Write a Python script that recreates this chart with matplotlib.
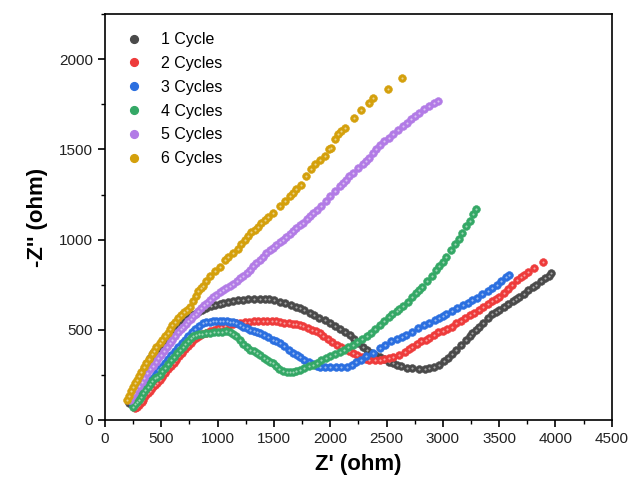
import matplotlib
matplotlib.use("Agg")
import matplotlib.pyplot as plt
from matplotlib.lines import Line2D
from matplotlib.ticker import MultipleLocator

plt.rcParams['font.family'] = ['Liberation Sans', 'DejaVu Sans']

labels = ["1 Cycle", "2 Cycles", "3 Cycles", "4 Cycles", "5 Cycles", "6 Cycles"]
colors = ["#4a4a4a", "#ee3b3b", "#2b6fe0", "#34a866", "#b27be6", "#d4a00c"]

c1 = [(215,95),(235,125),(255,155),(281,190),(305,222),(330,255),(350,285),(375,315),(400,343),(428,370),(455,390),(480,408),(500,420),(525,435),(550,450),(576,463),(600,478),(625,495),(650,512),(675,527),(700,542),(724,556),(750,568),(775,580),(800,590),(830,600),(860,610),(901,620),(940,630),(980,637),(1020,641),(1049,646),(1090,652),(1135,659),(1180,663),(1225,666),(1270,669),(1320,671),(1374,672),(1420,671),(1460,668),(1500,664),(1551,656),(1600,646),(1650,636),(1700,627),(1729,622),(1770,610),(1817,594),(1860,580),(1900,566),(1950,552),(1995,539),(2040,522),(2085,505),(2130,488),(2172,472),(2210,450),(2250,428),(2287,406),(2325,390),(2360,372),(2400,360),(2438,350),(2480,336),(2520,324),(2560,314),(2589,306),(2630,298),(2680,290),(2730,286),(2792,284),(2840,285),(2880,289),(2920,294),(2970,306),(3010,325),(3050,345),(3085,368),(3120,390),(3160,415),(3209,444),(3240,465),(3262,483),(3295,500),(3324,517),(3360,540),(3400,565),(3440,585),(3470,598),(3501,611),(3540,628),(3580,645),(3620,660),(3650,672),(3679,683),(3720,700),(3760,718),(3800,736),(3830,750),(3870,768),(3910,787),(3940,800),(3963,817)]

c2 = [(266,65),(285,72),(305,85),(325,100),(340,111),(360,130),(380,150),(400,163),(420,175),(445,192),(465,207),(488,222),(510,240),(535,260),(560,280),(585,298),(610,315),(635,333),(660,352),(685,372),(710,392),(735,410),(760,428),(783,444),(810,456),(835,466),(860,475),(895,483),(931,491),(965,500),(1000,510),(1035,517),(1070,523),(1100,528),(1135,533),(1167,536),(1200,539),(1240,542),(1280,544),(1320,546),(1360,548),(1401,550),(1440,550),(1480,549),(1520,547),(1551,544),(1590,540),(1630,536),(1670,533),(1700,530),(1729,528),(1760,520),(1800,510),(1840,500),(1870,493),(1906,483),(1940,468),(1980,450),(2020,432),(2057,417),(2095,403),(2130,392),(2165,381),(2199,372),(2240,360),(2280,348),(2320,339),(2349,333),(2400,331),(2438,333),(2480,338),(2520,344),(2560,350),(2615,361),(2660,378),(2700,395),(2730,406),(2770,420),(2810,435),(2850,446),(2881,456),(2920,470),(2960,485),(3000,495),(3040,505),(3085,517),(3120,535),(3160,550),(3200,567),(3240,580),(3280,595),(3324,611),(3360,625),(3400,642),(3440,658),(3470,670),(3501,683),(3540,705),(3580,728),(3617,750),(3660,775),(3690,790),(3723,806),(3760,820),(3812,844),(3891,878)]

c3 = [(245,82),(270,100),(300,125),(325,150),(350,172),(375,195),(400,215),(425,235),(450,255),(475,275),(500,295),(530,318),(560,340),(590,362),(620,385),(650,405),(680,425),(710,445),(740,465),(770,485),(800,502),(835,520),(871,537),(900,542),(930,545),(960,546),(990,546),(1020,547),(1050,547),(1082,548),(1110,545),(1140,541),(1167,537),(1197,528),(1230,518),(1260,508),(1290,500),(1320,495),(1350,488),(1374,483),(1410,470),(1450,458),(1490,443),(1520,436),(1551,428),(1590,410),(1630,390),(1670,372),(1702,361),(1729,350),(1770,335),(1810,320),(1850,308),(1880,300),(1906,294),(1950,292),(2000,292),(2050,292),(2100,293),(2145,294),(2190,305),(2230,320),(2270,335),(2320,352),(2376,372),(2438,398),(2490,418),(2540,436),(2590,450),(2640,462),(2677,472),(2730,490),(2780,508),(2830,524),(2880,538),(2930,552),(2970,566),(3000,578),(3032,590),(3080,606),(3130,622),(3180,637),(3220,650),(3262,663),(3300,678),(3350,698),(3400,715),(3439,733),(3480,750),(3520,770),(3560,790),(3590,806)]

c4 = [(251,74),(270,88),(285,100),(300,110),(320,128),(340,150),(360,168),(380,185),(400,200),(420,215),(445,230),(465,240),(488,250),(510,270),(535,290),(560,310),(585,330),(610,350),(640,370),(665,388),(690,405),(710,420),(735,437),(760,452),(783,463),(810,470),(835,475),(860,478),(895,480),(931,481),(965,485),(1000,487),(1040,490),(1079,491),(1110,487),(1140,478),(1167,463),(1197,444),(1230,422),(1260,402),(1290,390),(1320,382),(1347,372),(1380,358),(1410,342),(1440,330),(1465,322),(1489,317),(1520,300),(1550,285),(1580,273),(1613,267),(1640,264),(1667,267),(1700,272),(1729,278),(1770,288),(1810,298),(1844,306),(1880,318),(1920,330),(1960,343),(2000,355),(2040,365),(2083,376),(2120,388),(2160,402),(2200,418),(2240,433),(2280,448),(2323,464),(2360,482),(2400,505),(2438,526),(2480,550),(2520,572),(2553,590),(2590,603),(2615,613),(2650,632),(2690,655),(2730,682),(2760,703),(2792,722),(2819,739),(2860,770),(2900,800),(2940,830),(2970,852),(3000,875),(3032,904),(3070,940),(3110,975),(3140,1005),(3174,1039),(3210,1075),(3240,1105),(3270,1140),(3298,1167)]

c5 = [(222,111),(240,130),(260,150),(280,170),(300,190),(325,212),(350,235),(375,258),(400,280),(425,300),(450,322),(475,342),(500,362),(525,384),(550,405),(575,425),(600,445),(625,465),(650,485),(672,502),(694,518),(717,534),(740,548),(762,561),(783,574),(806,590),(830,605),(855,620),(880,635),(905,651),(931,667),(960,681),(990,695),(1020,707),(1050,718),(1079,730),(1108,741),(1140,756),(1170,770),(1200,785),(1230,800),(1258,816),(1285,833),(1315,851),(1345,868),(1375,885),(1403,904),(1433,926),(1462,940),(1492,954),(1520,970),(1551,985),(1581,1000),(1610,1015),(1640,1030),(1670,1046),(1700,1065),(1730,1080),(1758,1092),(1790,1115),(1820,1132),(1847,1148),(1880,1165),(1921,1185),(1960,1215),(1995,1241),(2040,1270),(2083,1296),(2110,1315),(2143,1333),(2170,1352),(2201,1371),(2245,1395),(2290,1417),(2320,1435),(2349,1454),(2380,1478),(2409,1500),(2445,1523),(2482,1546),(2520,1565),(2556,1583),(2600,1607),(2645,1630),(2680,1648),(2719,1667),(2755,1686),(2792,1704),(2835,1722),(2881,1741),(2920,1755),(2955,1769)]

c6 = [(192,111),(210,135),(230,160),(250,185),(265,205),(281,222),(300,245),(320,268),(345,293),(369,315),(395,340),(420,365),(440,385),(458,407),(485,425),(510,445),(535,465),(556,482),(576,505),(600,525),(625,545),(650,565),(675,582),(700,598),(725,610),(753,625),(780,660),(805,690),(830,715),(850,730),(871,745),(900,770),(931,796),(975,825),(1020,850),(1064,885),(1093,905),(1137,926),(1182,950),(1212,975),(1240,1000),(1270,1022),(1300,1040),(1330,1056),(1360,1070),(1389,1090),(1420,1110),(1448,1128),(1492,1150),(1551,1185),(1596,1213),(1640,1240),(1670,1260),(1700,1278),(1740,1305),(1788,1352),(1830,1390),(1862,1417),(1910,1440),(1950,1463),(1990,1500),(2010,1509),(2039,1560),(2070,1585),(2100,1600),(2128,1620),(2207,1676),(2276,1719),(2343,1759),(2379,1787),(2512,1837),(2639,1898)]

series = [c1, c2, c3, c4, c5, c6]

fig = plt.figure(figsize=(6.32, 4.90), dpi=100)
ax = fig.add_axes([0.166, 0.143, 0.802, 0.828])

ms = 5.6
for data, col, lab in zip(series, colors, labels):
    xs = [p[0] for p in data]
    ys = [p[1] for p in data]
    ax.plot(xs, ys, linestyle='none', marker='o', ms=ms, mfc=col, mec=col,
            mew=0.4, label=lab)
    ax.plot(xs, ys, linestyle='none', marker='o', ms=1.5, mfc='white',
            mec='none', alpha=0.55)

ax.set_xlim(0, 4500)
ax.set_ylim(0, 2250)
ax.xaxis.set_major_locator(MultipleLocator(500))
ax.xaxis.set_minor_locator(MultipleLocator(250))
ax.yaxis.set_major_locator(MultipleLocator(500))
ax.yaxis.set_minor_locator(MultipleLocator(250))
ax.tick_params(which='major', direction='out', length=5, width=1.2,
               labelsize=11, labelcolor='#222222', top=False, right=False)
ax.tick_params(which='minor', direction='out', length=3, width=1.0,
               top=False, right=False)
for s in ax.spines.values():
    s.set_linewidth(1.2)

ax.set_xlabel("Z' (ohm)", fontsize=16, fontweight='bold', labelpad=6)
ax.set_ylabel("-Z'' (ohm)", fontsize=16, fontweight='bold', labelpad=8)

handles = [Line2D([], [], linestyle='none', marker='o', ms=ms, mfc=c, mec=c)
           for c in colors]
ax.legend(handles, labels, loc='upper left', bbox_to_anchor=(0.003, 0.995),
          frameon=False, fontsize=11.5, labelspacing=0.55, handletextpad=0.9,
          handlelength=1.5, borderaxespad=0.6)

fig.savefig("out.png", dpi=100)
